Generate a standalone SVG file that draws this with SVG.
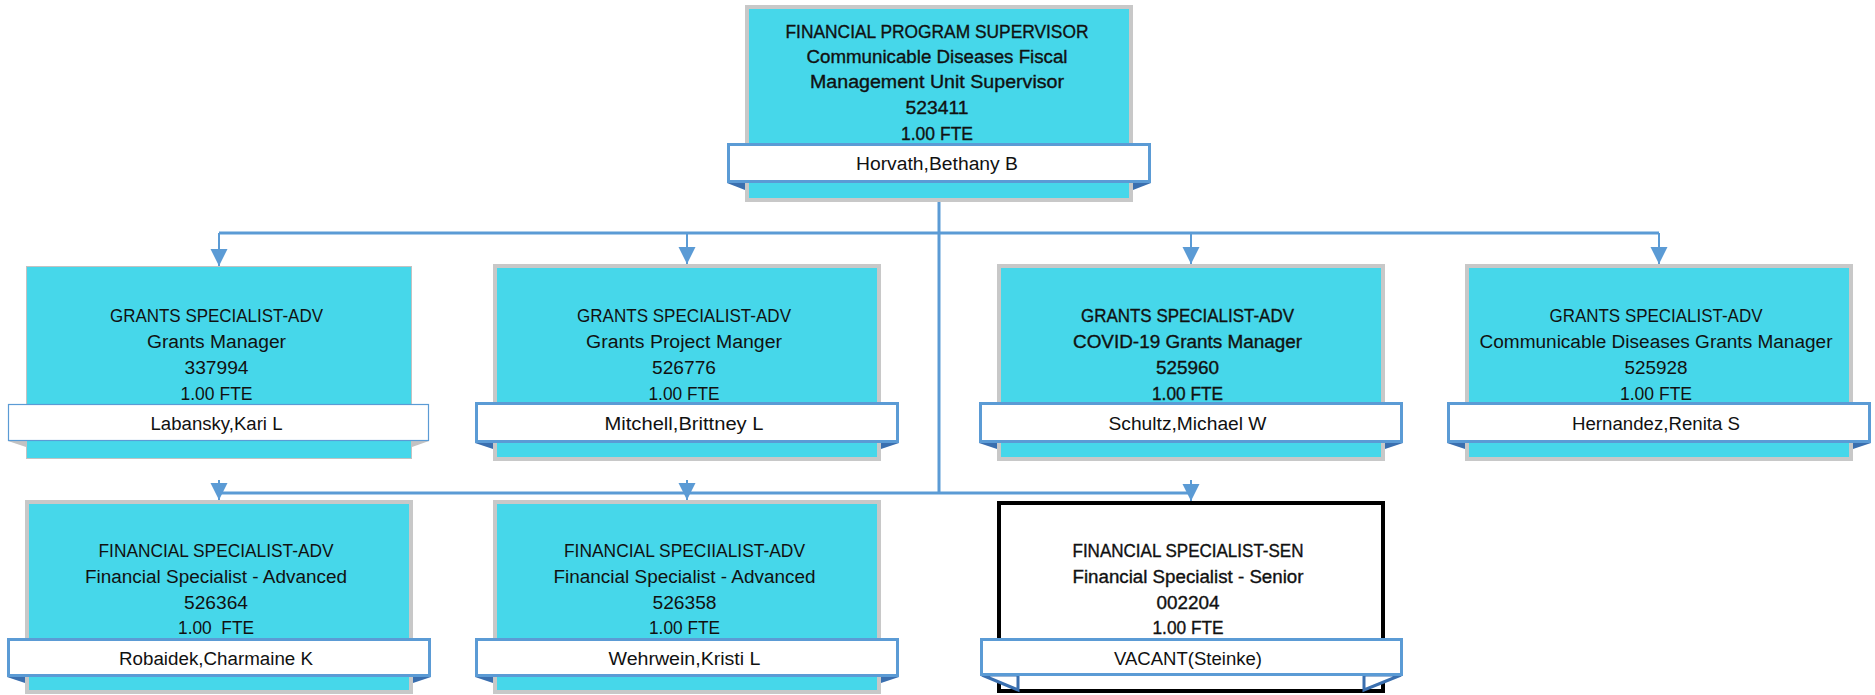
<svg xmlns="http://www.w3.org/2000/svg" width="1875" height="695" viewBox="0 0 1875 695">
<style>
text{font-family:"Liberation Sans",Arial,sans-serif;font-size:18px;fill:#111;text-anchor:middle}
.b{stroke:#111;stroke-width:0.35}
.box{fill:#46D7EA;stroke:#C8C8C8;stroke-width:4}
.thin{fill:#46D7EA;stroke:#C2C2C2;stroke-width:1}
.vac{fill:#fff;stroke:#000;stroke-width:4}
.bar{fill:#fff;stroke:#5B9BD5;stroke-width:3}
.barthin{fill:#fff;stroke:#5B9BD5;stroke-width:1.2}
.fold{fill:#3A6FAF}
.foldg{fill:#C2C2C2}
.foldo{fill:#fff;stroke:#3A6FAF;stroke-width:3}
.con{fill:none;stroke:#5B9BD5;stroke-width:3}
.arr{fill:none;stroke:#5B9BD5;stroke-width:2}
</style>
<defs>
<marker id="ah" markerUnits="userSpaceOnUse" markerWidth="18" markerHeight="18" refX="17" refY="8.5" orient="auto">
<path d="M0,0 L17,8.5 L0,17 z" fill="#5B9BD5"/>
</marker>
</defs>
<g id="connectors">
<path class="con" d="M939 202 V493"/>
<path class="con" d="M219 233 H1659"/>
<path class="con" d="M219 493 H1191"/>
<path class="arr" d="M219 233 V266" marker-end="url(#ah)"/>
<path class="arr" d="M687 233 V264" marker-end="url(#ah)"/>
<path class="arr" d="M1191 233 V264" marker-end="url(#ah)"/>
<path class="arr" d="M1659 233 V264" marker-end="url(#ah)"/>
<path class="arr" d="M219 480 V500" marker-end="url(#ah)"/>
<path class="arr" d="M687 480 V500" marker-end="url(#ah)"/>
<path class="arr" d="M1191 480 V501" marker-end="url(#ah)"/>
</g>
<g id="node-supervisor">
<rect class="box" x="747" y="7" width="384" height="193"/>
<polygon class="fold" points="727,183 745,183 745,190"/>
<polygon class="fold" points="1151,183 1133,183 1133,190"/>
<rect class="bar" x="728.5" y="144.5" width="421" height="37"/>
<text class="b" x="937" y="37.5" textLength="303" lengthAdjust="spacingAndGlyphs">FINANCIAL PROGRAM SUPERVISOR</text>
<text class="b" x="937" y="62.5" textLength="261" lengthAdjust="spacingAndGlyphs">Communicable Diseases Fiscal</text>
<text class="b" x="937" y="87.5" textLength="254" lengthAdjust="spacingAndGlyphs">Management Unit Supervisor</text>
<text class="b" x="937" y="113.5" textLength="63" lengthAdjust="spacingAndGlyphs">523411</text>
<text class="b" x="937" y="139.5" textLength="72" lengthAdjust="spacingAndGlyphs">1.00 FTE</text>
<text x="937" y="169.5" textLength="162" lengthAdjust="spacingAndGlyphs">Horvath,Bethany B</text>
</g>
<g id="node-labansky">
<rect class="thin" x="26.5" y="266.5" width="385" height="192"/>
<polygon class="foldg" points="8,441 26,441 26,447"/>
<polygon class="foldg" points="429,441 412,441 412,447"/>
<rect class="barthin" x="8.5" y="404.5" width="420" height="36"/>
<text x="216.5" y="321.5" textLength="213" lengthAdjust="spacingAndGlyphs">GRANTS SPECIALIST-ADV</text>
<text x="216.5" y="347.5" textLength="139" lengthAdjust="spacingAndGlyphs">Grants Manager</text>
<text x="216.5" y="373.5" textLength="64" lengthAdjust="spacingAndGlyphs">337994</text>
<text x="216.5" y="399.5" textLength="72" lengthAdjust="spacingAndGlyphs">1.00 FTE</text>
<text x="216.5" y="429.5" textLength="132" lengthAdjust="spacingAndGlyphs">Labansky,Kari L</text>
</g>
<g id="node-mitchell">
<rect class="box" x="495" y="266" width="384" height="193"/>
<polygon class="fold" points="475,443 493,443 493,449"/>
<polygon class="fold" points="899,443 881,443 881,449"/>
<rect class="bar" x="476.5" y="403.5" width="421" height="38"/>
<text x="684" y="321.5" textLength="214" lengthAdjust="spacingAndGlyphs">GRANTS SPECIALIST-ADV</text>
<text x="684" y="347.5" textLength="196" lengthAdjust="spacingAndGlyphs">Grants Project Manger</text>
<text x="684" y="373.5" textLength="64" lengthAdjust="spacingAndGlyphs">526776</text>
<text x="684" y="399.5" textLength="71" lengthAdjust="spacingAndGlyphs">1.00 FTE</text>
<text x="684" y="429.5" textLength="159" lengthAdjust="spacingAndGlyphs">Mitchell,Brittney L</text>
</g>
<g id="node-schultz">
<rect class="box" x="999" y="266" width="384" height="193"/>
<polygon class="fold" points="979,443 997,443 997,449"/>
<polygon class="fold" points="1403,443 1385,443 1385,449"/>
<rect class="bar" x="980.5" y="403.5" width="421" height="38"/>
<text class="b" x="1187.5" y="321.5" textLength="213" lengthAdjust="spacingAndGlyphs">GRANTS SPECIALIST-ADV</text>
<text class="b" x="1187.5" y="347.5" textLength="229" lengthAdjust="spacingAndGlyphs">COVID-19 Grants Manager</text>
<text class="b" x="1187.5" y="373.5" textLength="63" lengthAdjust="spacingAndGlyphs">525960</text>
<text class="b" x="1187.5" y="399.5" textLength="71" lengthAdjust="spacingAndGlyphs">1.00 FTE</text>
<text x="1187.5" y="429.5" textLength="158" lengthAdjust="spacingAndGlyphs">Schultz,Michael W</text>
</g>
<g id="node-hernandez">
<rect class="box" x="1467" y="266" width="384" height="193"/>
<polygon class="fold" points="1447,443 1465,443 1465,449"/>
<polygon class="fold" points="1871,443 1853,443 1853,449"/>
<rect class="bar" x="1448.5" y="403.5" width="421" height="38"/>
<text x="1656" y="321.5" textLength="213" lengthAdjust="spacingAndGlyphs">GRANTS SPECIALIST-ADV</text>
<text x="1656" y="347.5" textLength="353" lengthAdjust="spacingAndGlyphs">Communicable Diseases Grants Manager</text>
<text x="1656" y="373.5" textLength="63" lengthAdjust="spacingAndGlyphs">525928</text>
<text x="1656" y="399.5" textLength="72" lengthAdjust="spacingAndGlyphs">1.00 FTE</text>
<text x="1656" y="429.5" textLength="168" lengthAdjust="spacingAndGlyphs">Hernandez,Renita S</text>
</g>
<g id="node-robaidek">
<rect class="box" x="27" y="502" width="384" height="190"/>
<polygon class="fold" points="7,677 25,677 25,683"/>
<polygon class="fold" points="431,677 413,677 413,683"/>
<rect class="bar" x="8.5" y="639.5" width="421" height="36"/>
<text x="216" y="556.5" textLength="235" lengthAdjust="spacingAndGlyphs">FINANCIAL SPECIALIST-ADV</text>
<text x="216" y="582.5" textLength="262" lengthAdjust="spacingAndGlyphs">Financial Specialist - Advanced</text>
<text x="216" y="608.5" textLength="64" lengthAdjust="spacingAndGlyphs">526364</text>
<text x="216" y="634" textLength="76" lengthAdjust="spacingAndGlyphs" xml:space="preserve">1.00  FTE</text>
<text x="216" y="664.5" textLength="194" lengthAdjust="spacingAndGlyphs">Robaidek,Charmaine K</text>
</g>
<g id="node-wehrwein">
<rect class="box" x="495" y="502" width="384" height="190"/>
<polygon class="fold" points="475,677 493,677 493,683"/>
<polygon class="fold" points="899,677 881,677 881,683"/>
<rect class="bar" x="476.5" y="639.5" width="421" height="36"/>
<text x="684.5" y="556.5" textLength="241" lengthAdjust="spacingAndGlyphs">FINANCIAL SPECIIALIST-ADV</text>
<text x="684.5" y="582.5" textLength="262" lengthAdjust="spacingAndGlyphs">Financial Specialist - Advanced</text>
<text x="684.5" y="608.5" textLength="64" lengthAdjust="spacingAndGlyphs">526358</text>
<text x="684.5" y="634" textLength="71" lengthAdjust="spacingAndGlyphs">1.00 FTE</text>
<text x="684.5" y="664.5" textLength="152" lengthAdjust="spacingAndGlyphs">Wehrwein,Kristi L</text>
</g>
<g id="node-vacant">
<rect class="vac" x="999" y="503" width="384" height="188"/>
<polygon class="foldo" points="982,675 1018,675 1018,690"/>
<polygon class="foldo" points="1401,675 1364,675 1364,690"/>
<rect class="bar" x="981.5" y="639.5" width="420" height="35"/>
<text class="b" x="1188" y="556.5" textLength="231" lengthAdjust="spacingAndGlyphs">FINANCIAL SPECIALIST-SEN</text>
<text class="b" x="1188" y="582.5" textLength="231" lengthAdjust="spacingAndGlyphs">Financial Specialist - Senior</text>
<text class="b" x="1188" y="608.5" textLength="63" lengthAdjust="spacingAndGlyphs">002204</text>
<text class="b" x="1188" y="634" textLength="71" lengthAdjust="spacingAndGlyphs">1.00 FTE</text>
<text x="1188" y="664.5" textLength="148" lengthAdjust="spacingAndGlyphs">VACANT(Steinke)</text>
</g>
</svg>
